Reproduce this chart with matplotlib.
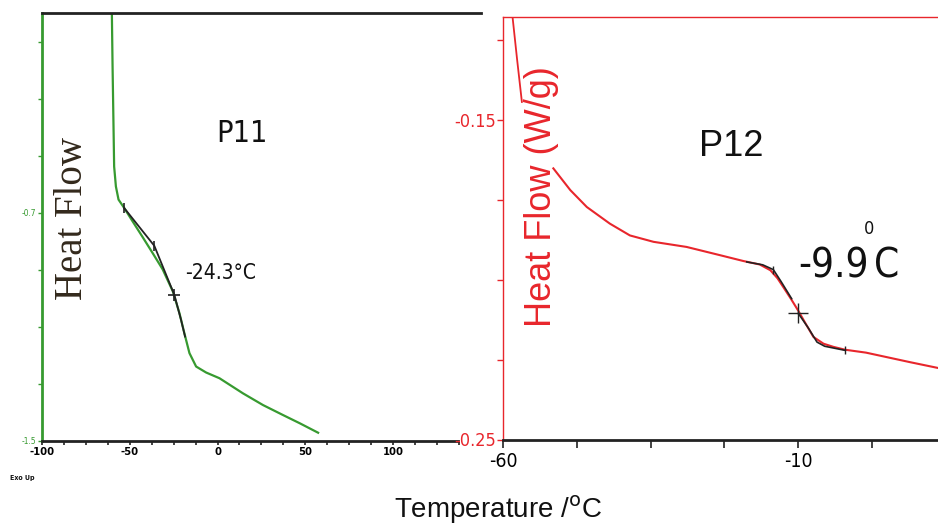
import matplotlib
matplotlib.use("Agg")
import matplotlib.pyplot as plt
from matplotlib import font_manager as fm
import numpy as np

# ---------------- data ----------------
# P11 (left panel, green DSC curve)
p11_temp = [-60.2, -59.8, -58.9, -57.9, -56.4, -53.1, -48.4, -42.7, -37.0, -31.3,
            -25.5, -21.7, -18.9, -16.0, -12.2, -6.5, 1.1, 14.5, 25.9, 37.3, 46.9, 57.3]
p11_heat = [0.0, -0.186, -0.538, -0.608, -0.654, -0.684, -0.730, -0.785, -0.841, -0.898,
            -0.975, -1.052, -1.122, -1.192, -1.239, -1.260, -1.280, -1.333, -1.374, -1.409,
            -1.438, -1.471]
# P11 glass-transition construction (black)
p11_tg_temp = [-53.1, -36.0, -24.6, -20.8, -18.5]
p11_tg_heat = [-0.684, -0.816, -0.988, -1.075, -1.134]
p11_tick_temp = [-53.1, -36.0]
p11_tick_heat = [-0.684, -0.816]
p11_mid_temp = [-24.6]
p11_mid_heat = [-0.988]

# P12 (right panel, red DSC curve) -- two visible pieces
p12_temp_a = [-58.36, -57.6, -56.8]
p12_heat_a = [-0.1181, -0.1312, -0.1443]
p12_temp_b = [-51.47, -48.6, -45.8, -41.9, -38.5, -34.5, -28.9, -23.2, -19.3, -16.5,
              -14.7, -13.5, -12.5, -11.2, -10.0, -8.7, -7.4, -5.7, -4.0, -2.0,
              1.5, 5.0, 9.0, 13.7]
p12_heat_b = [-0.1651, -0.1719, -0.1772, -0.1824, -0.1861, -0.1881, -0.1897, -0.1923,
              -0.1941, -0.1952, -0.1970, -0.1995, -0.2023, -0.2060, -0.2096, -0.2138,
              -0.2179, -0.2200, -0.2210, -0.2219, -0.2228, -0.2242, -0.2258, -0.2276]
# P12 glass-transition construction (black)
p12_tg_temp_a = [-18.7, -16.0, -14.2, -12.9, -11.1]
p12_tg_heat_a = [-0.1944, -0.1953, -0.1968, -0.2005, -0.2059]
p12_tg_temp_b = [-10.0, -9.6, -8.3, -6.8, -5.5, -2.0]
p12_tg_heat_b = [-0.2105, -0.2115, -0.2150, -0.2195, -0.2208, -0.2221]
p12_tick_temp = [-14.2, -2.0]
p12_tick_heat = [-0.1968, -0.2221]
p12_mid_temp = [-10.0]
p12_mid_heat = [-0.2105]

# ticks
p11_xmajor = [-100, -50, 0, 50, 100]
p11_xlabels = ["-100", "-50", "0", "50", "100"]
p11_xminor = [-87.5, -75, -62.5, -37.5, -25, -12.5, 12.5, 25, 37.5, 62.5, 75, 87.5, 112.5, 125, 137.5]
p11_ymajor = [-1.5, -0.7]
p11_ylabels = ["-1.5", "-0.7"]
p11_yminor = [-1.3, -1.1, -0.9, -0.5, -0.3, -0.1]

p12_xmajor = [-60, -10]
p12_xlabels = ["-60", "-10"]
p12_xminor = [-47.5, -35, -22.5, 2.5]
p12_ymajor = [-0.25, -0.15]
p12_ylabels = ["-0.25", "-0.15"]
p12_yminor = [-0.225, -0.2, -0.175, -0.125]

# ---------------- fonts ----------------
def narrow_props():
    """Pick a condensed sans font if one is installed."""
    for fam, stretch in (('Liberation Sans Narrow', 'normal'),
                         ('DejaVu Sans', 'condensed')):
        try:
            p = fm.FontProperties(family=fam, stretch=stretch)
            f = fm.findfont(p, fallback_to_default=False)
            if 'Narrow' in f or 'Condensed' in f:
                return dict(family=[fam, 'DejaVu Sans'], stretch=stretch), True
        except Exception:
            pass
    return dict(family=['Liberation Sans', 'DejaVu Sans']), False


NARROW, HAVE_NARROW = narrow_props()

# ---------------- figure ----------------
W, H = 938, 527
plt.rcParams['font.family'] = ['Liberation Sans', 'DejaVu Sans']
fig = plt.figure(figsize=(W / 100, H / 100), dpi=100)
fig.patch.set_facecolor('white')


def box(x0, y0, x1, y1):
    return [x0 / W, 1 - y1 / H, (x1 - x0) / W, (y1 - y0) / H]


def fp(x, y):
    return x / W, 1 - y / H


GREEN = '#379a30'
RED = '#e8262c'
DARK = '#222222'

# ---- left panel ----
ax1 = fig.add_axes(box(42, 13, 481, 441))
ax1.plot(p11_temp, p11_heat, color=GREEN, lw=1.6, zorder=2)
ax1.plot(p11_tg_temp, p11_tg_heat, color=DARK, lw=1.3, zorder=3)
ax1.plot(p11_tick_temp, p11_tick_heat, ls='none', marker='|', ms=7, mew=1.2, color=DARK, zorder=3)
ax1.plot(p11_mid_temp, p11_mid_heat, ls='none', marker='+', ms=8, mew=1.2, color=DARK, zorder=3)
ax1.set_xlim(-100, 150.1)
ax1.set_ylim(-1.5, 0.0)
ax1.spines['right'].set_visible(False)
ax1.spines['left'].set_color(GREEN)
ax1.spines['left'].set_linewidth(2.0)
ax1.spines['bottom'].set_color(DARK)
ax1.spines['bottom'].set_linewidth(2.0)
ax1.spines['bottom'].set_bounds(-100, 137)
ax1.spines['top'].set_color(DARK)
ax1.spines['top'].set_linewidth(2.0)
ax1.set_xticks(p11_xmajor)
ax1.set_xticklabels(p11_xlabels, fontsize=8, fontweight='bold', **NARROW)
ax1.set_xticks(p11_xminor, minor=True)
ax1.set_yticks(p11_ymajor)
ax1.set_yticklabels(p11_ylabels, fontsize=6, color=GREEN, **NARROW)
ax1.set_yticks(p11_yminor, minor=True)
ax1.tick_params(axis='x', which='both', direction='out', length=3, width=1.2, color=DARK, pad=1.5)
ax1.tick_params(axis='y', which='both', direction='out', length=3, width=1.0, color=GREEN, pad=1.5)
ax1.patch.set_alpha(0)

# ---- right panel ----
ax2 = fig.add_axes(box(503, 17, 938, 439.5))
ax2.plot(p12_temp_a, p12_heat_a, color=RED, lw=1.3, zorder=2)
ax2.plot(p12_temp_b, p12_heat_b, color=RED, lw=1.5, zorder=2)
ax2.plot(p12_tg_temp_a, p12_tg_heat_a, color=DARK, lw=1.2, zorder=3)
ax2.plot(p12_tg_temp_b, p12_tg_heat_b, color=DARK, lw=1.2, zorder=3)
ax2.plot(p12_tick_temp, p12_tick_heat, ls='none', marker='|', ms=6, mew=1.0, color=DARK, zorder=3)
ax2.plot(p12_mid_temp, p12_mid_heat, ls='none', marker='+', ms=14, mew=1.0, color=DARK, zorder=3)
ax2.set_xlim(-60, 13.7)
ax2.set_ylim(-0.25, -0.1177)
ax2.spines['right'].set_visible(False)
ax2.spines['left'].set_color(RED)
ax2.spines['left'].set_linewidth(1.0)
ax2.spines['top'].set_color(RED)
ax2.spines['top'].set_linewidth(1.0)
ax2.spines['bottom'].set_color(DARK)
ax2.spines['bottom'].set_linewidth(2.0)
ax2.set_xticks(p12_xmajor)
ax2.set_xticklabels(p12_xlabels, fontsize=14, **NARROW)
ax2.set_xticks(p12_xminor, minor=True)
ax2.set_yticks(p12_ymajor)
ax2.set_yticklabels(p12_ylabels, fontsize=13, color=RED, **NARROW)
ax2.set_yticks(p12_yminor, minor=True)
ax2.tick_params(axis='x', which='both', direction='out', length=6, width=1.2, color=DARK, pad=3)
ax2.tick_params(axis='y', which='both', direction='out', length=4, width=1.0, color=RED, pad=1)
ax2.patch.set_alpha(0)

# ---- texts ----
fig.text(*fp(242, 133), 'P11', fontsize=22 if HAVE_NARROW else 21, ha='center', va='center',
         color='#111111', **NARROW)
fig.text(*fp(185, 273), '-24.3°C', fontsize=15, ha='left', va='center',
         color='#111111', **NARROW)
fig.text(*fp(72, 219), 'Heat Flow', fontsize=28, family=['Liberation Serif', 'DejaVu Serif'],
         rotation=90, ha='center', va='center', color='#33291c')
fig.text(*fp(10, 478), 'Exo Up', fontsize=5, ha='left', va='center', color='#111111',
         fontweight='bold', **NARROW)

fig.text(*fp(731, 147), 'P12', fontsize=26, ha='center', va='center', color='#111111')
# "-9.9 °C" built from three pieces so the small raised zero sits between 9 and C
fig.text(*fp(798, 277), '-9.9', fontsize=29, ha='left', va='baseline', color='#111111', **NARROW)
fig.text(*fp(869, 229), '0', fontsize=13, ha='center', va='center', color='#111111', **NARROW)
fig.text(*fp(874, 277), 'C', fontsize=29, ha='left', va='baseline', color='#111111', **NARROW)
fig.text(*fp(541, 197), 'Heat Flow (W/g)', fontsize=26, rotation=90, ha='center',
         va='center', color=RED)

fig.text(*fp(498, 510), r'Temperature /$^{\mathrm{o}}$C', fontsize=20,
         ha='center', va='center', color='#111111')

fig.savefig('out.png', dpi=100, facecolor='white')
